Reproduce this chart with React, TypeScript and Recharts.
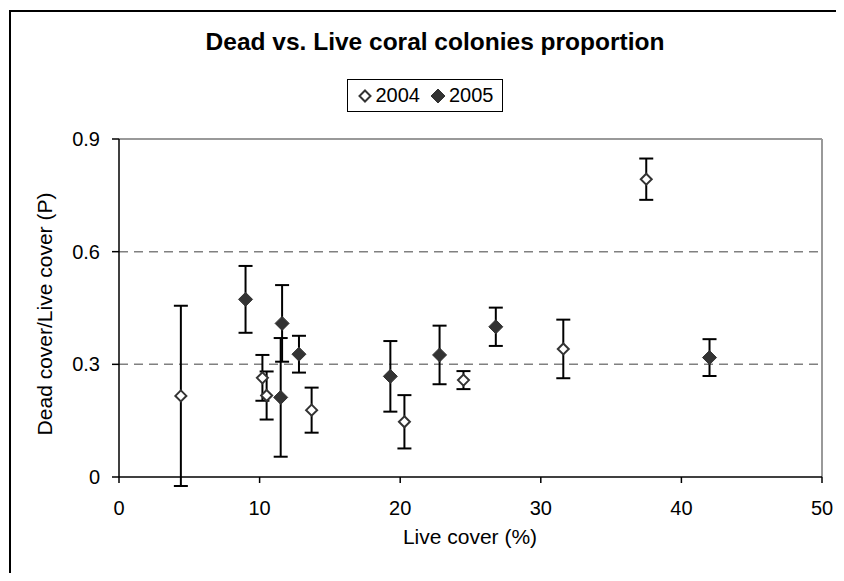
import React from "react";
import {
  ScatterChart, Scatter, XAxis, YAxis, ErrorBar, ReferenceLine, Legend,
} from "recharts";

// 2004 survey
const live2004 = [4.4, 10.2, 10.5, 13.7, 20.3, 24.5, 31.6, 37.5];
const ratio2004 = [0.216, 0.264, 0.217, 0.178, 0.147, 0.258, 0.341, 0.793];
const err2004 = [0.24, 0.061, 0.064, 0.06, 0.071, 0.024, 0.078, 0.055];

// 2005 survey
const live2005 = [9.0, 11.5, 11.6, 12.8, 19.3, 22.8, 26.8, 42.0];
const ratio2005 = [0.473, 0.212, 0.409, 0.327, 0.268, 0.325, 0.4, 0.318];
const err2005 = [0.089, 0.158, 0.102, 0.049, 0.094, 0.078, 0.051, 0.049];

const xTicks = [0, 10, 20, 30, 40, 50];
const yTicks = [0, 0.3, 0.6, 0.9];
const gridLines = [0.3, 0.6];

const FONT = "'Liberation Sans', Arial, sans-serif";

const build = (xs: number[], ys: number[], es: number[]) =>
  xs.map((x, i) => ({ x, p: ys[i], err: es[i] }));

const data2004 = build(live2004, ratio2004, err2004);
const data2005 = build(live2005, ratio2005, err2005);

const seriesStyle: Record<string, { fill: string; r: number; sw: number }> = {
  "2004": { fill: "#fff", r: 5.5, sw: 2 },
  "2005": { fill: "#333", r: 7, sw: 1 },
};

const diamond = (cx: number, cy: number, r: number) =>
  `M${cx},${cy - r}L${cx + r},${cy}L${cx},${cy + r}L${cx - r},${cy}Z`;

const makeShape = (name: string) => (props: any) => {
  const { cx, cy } = props;
  const s = seriesStyle[name];
  return <path d={diamond(cx, cy, s.r)} fill={s.fill} stroke="#333" strokeWidth={s.sw} />;
};

const renderLegend = (props: any) => {
  const { payload = [] } = props;
  return (
    <div
      style={{
        border: "1.5px solid #000",
        background: "#fff",
        boxSizing: "border-box",
        height: 33,
        display: "flex",
        alignItems: "center",
        justifyContent: "center",
        fontFamily: FONT,
        fontSize: 20,
        color: "#000",
      }}
    >
      {payload.map((entry: any, i: number) => {
        const s = seriesStyle[entry.value] || seriesStyle["2004"];
        return (
          <span
            key={i}
            style={{ display: "inline-flex", alignItems: "center", marginLeft: i ? 10 : 0 }}
          >
            <svg width={16} height={16} style={{ marginRight: 3 }}>
              <path d={diamond(8, 8, s.r)} fill={s.fill} stroke="#333" strokeWidth={s.sw} />
            </svg>
            {entry.value}
          </span>
        );
      })}
    </div>
  );
};

export default function App() {
  const tick = { fill: "#000", fontSize: 20, fontFamily: FONT };
  return (
    <div
      style={{
        position: "relative",
        width: 836,
        height: 565,
        overflow: "hidden",
        background: "#fff",
        fontFamily: FONT,
      }}
    >
      <div
        style={{
          position: "absolute",
          left: 1,
          top: 2,
          right: -10,
          bottom: -10,
          borderTop: "2px solid #000",
          borderLeft: "2px solid #000",
        }}
      />
      <div
        style={{
          position: "absolute",
          top: 20,
          left: 0,
          width: 854,
          textAlign: "center",
          fontWeight: "bold",
          fontSize: 24.5,
          lineHeight: "28px",
        }}
      >
        Dead vs. Live coral colonies proportion
      </div>
      <div
        style={{
          position: "absolute",
          left: 37,
          top: 306,
          transform: "translate(-50%, -50%) rotate(-90deg)",
          whiteSpace: "nowrap",
          fontSize: 21,
        }}
      >
        Dead cover/Live cover (P)
      </div>
      <div
        style={{
          position: "absolute",
          top: 517,
          left: 312,
          width: 300,
          textAlign: "center",
          fontSize: 21,
        }}
      >
        Live cover (%)
      </div>
      <div style={{ position: "absolute", left: 0, top: 0 }}>
        <ScatterChart
          width={836}
          height={560}
          margin={{ top: 131, right: 22, bottom: 61, left: 51 }}
        >
          <XAxis
            type="number"
            dataKey="x"
            domain={[0, 50]}
            ticks={xTicks}
            interval={0}
            height={30}
            tickSize={6}
            tickMargin={18}
            tick={tick}
            axisLine={{ stroke: "#000", strokeWidth: 1.5 }}
            tickLine={{ stroke: "#000", strokeWidth: 1.5 }}
          />
          <YAxis
            type="number"
            dataKey="p"
            domain={[0, 0.9]}
            ticks={yTicks}
            interval={0}
            allowDataOverflow
            width={60}
            tickSize={7}
            tickMargin={12}
            tick={tick}
            tickFormatter={(v: number) => (v === 0 ? "0" : v.toFixed(1))}
            axisLine={{ stroke: "#000", strokeWidth: 1.5 }}
            tickLine={{ stroke: "#000", strokeWidth: 1.5 }}
          />
          {gridLines.map((g) => (
            <ReferenceLine key={g} y={g} stroke="#808080" strokeWidth={1.5} strokeDasharray="9 6" />
          ))}
          <ReferenceLine y={0.9} stroke="#999" strokeWidth={2} />
          <ReferenceLine x={50} stroke="#999" strokeWidth={2} />
          <Legend
            layout="horizontal"
            verticalAlign="middle"
            align="center"
            content={renderLegend}
            wrapperStyle={{ top: 71, left: 339, width: 156, height: 33 }}
          />
          <Scatter
            name="2004"
            data={data2004}
            fill="#fff"
            shape={makeShape("2004")}
            isAnimationActive={false}
          >
            <ErrorBar dataKey="err" direction="y" width={7} stroke="#000" strokeWidth={2} />
          </Scatter>
          <Scatter
            name="2005"
            data={data2005}
            fill="#333"
            shape={makeShape("2005")}
            isAnimationActive={false}
          >
            <ErrorBar dataKey="err" direction="y" width={7} stroke="#000" strokeWidth={2} />
          </Scatter>
        </ScatterChart>
      </div>
    </div>
  );
}
